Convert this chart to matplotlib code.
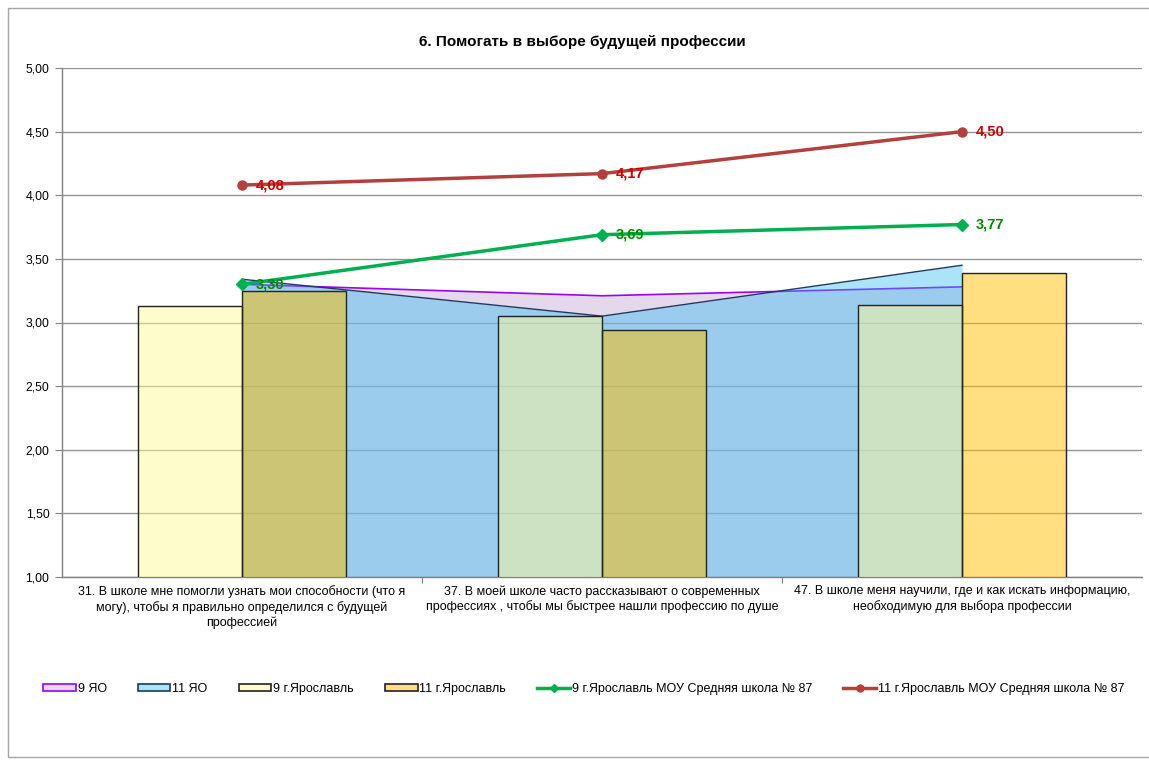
import matplotlib.pyplot as plt
import matplotlib.patches as mpatches
from matplotlib.lines import Line2D
from matplotlib.ticker import FuncFormatter, FixedLocator
import numpy as np

plt.rcParams['font.family'] = ['Liberation Sans', 'DejaVu Sans']

# Survey data
categories = [
    "31. В школе мне помогли узнать мои способности (что я\nмогу), чтобы я правильно определился с будущей\nпрофессией",
    "37. В моей школе часто рассказывают о современных\nпрофессиях , чтобы мы быстрее нашли профессию по душе",
    "47. В школе меня научили, где и как искать информацию,\nнеобходимую для выбора профессии",
]
yo_9 = [3.30, 3.21, 3.28]
yo_11 = [3.34, 3.05, 3.45]
yar_9 = [3.13, 3.05, 3.14]
yar_11 = [3.25, 2.94, 3.39]
school_9 = [3.30, 3.69, 3.77]
school_11 = [4.08, 4.17, 4.50]

series_names = ["9 ЯО", "11 ЯО", "9 г.Ярославль", "11 г.Ярославль",
                "9 г.Ярославль МОУ Средняя школа № 87",
                "11 г.Ярославль МОУ Средняя школа № 87"]

W, H = 1149, 761
fig = plt.figure(figsize=(W / 100, H / 100), dpi=100)

# outer chart frame
fig.add_artist(mpatches.Rectangle((8 / W, 1 - 757 / H), 1.2, (757 - 8) / H,
                                  transform=fig.transFigure, fill=False,
                                  edgecolor='#a6a6a6', linewidth=1.0))

ax = fig.add_axes([62 / W, 1 - 577 / H, (1142 - 62) / W, (577 - 68) / H])
x = np.arange(len(categories))

ax.set_axisbelow(True)
ax.yaxis.grid(True, color='#959595', linewidth=1.0, zorder=0)

# area series
ax.fill_between(x, 1.0, yo_9, color=(205 / 255, 179 / 255, 221 / 255), alpha=0.5,
                linewidth=0, zorder=1)
ax.plot(x, yo_9, color='#9900ff', linewidth=1.2, zorder=1.5)
ax.fill_between(x, 1.0, yo_11, color=(45 / 255, 185 / 255, 238 / 255), alpha=0.4,
                linewidth=0, zorder=2)
ax.plot(x, yo_11, color='#1f3a5f', linewidth=1.0, zorder=2.5)

# bars
bw = 0.288
ax.bar(x - bw / 2, yar_9, width=bw, bottom=0, color='#fffa99', alpha=0.5,
       edgecolor='none', zorder=3)
ax.bar(x - bw / 2, yar_9, width=bw, bottom=0, fill=False,
       edgecolor='#222222', linewidth=1.0, zorder=3.1)
ax.bar(x + bw / 2, yar_11, width=bw, bottom=0, color='#ffc000', alpha=0.5,
       edgecolor='none', zorder=3)
ax.bar(x + bw / 2, yar_11, width=bw, bottom=0, fill=False,
       edgecolor='#222222', linewidth=1.0, zorder=3.1)

# school lines
ax.plot(x, school_9, color='#00b050', linewidth=2.5, marker='D', markersize=6,
        zorder=5)
ax.plot(x, school_11, color='#b3403d', linewidth=2.5, marker='o', markersize=6.5,
        zorder=5)

def fmt(v):
    return f"{v:.2f}".replace('.', ',')

for xi, v in zip(x, school_9):
    ax.annotate(fmt(v), (xi, v), xytext=(10, 0), textcoords='offset points',
                ha='left', va='center', fontsize=10.5, fontweight='bold',
                color='#008a00', zorder=6)
for xi, v in zip(x, school_11):
    ax.annotate(fmt(v), (xi, v), xytext=(10, 0), textcoords='offset points',
                ha='left', va='center', fontsize=10.5, fontweight='bold',
                color='#cc0000', zorder=6)

ax.set_xlim(-0.5, 2.5)
ax.set_ylim(1.0, 5.0)
ax.set_yticks(np.arange(1.0, 5.01, 0.5))
ax.yaxis.set_major_formatter(FuncFormatter(lambda v, p: fmt(v)))
ax.tick_params(axis='y', labelsize=8.8, length=5, width=0.8, color='#808080',
               pad=4)

ax.set_xticks(x)
ax.set_xticklabels(categories, fontsize=9, linespacing=1.25)
ax.tick_params(axis='x', length=0, pad=6)
ax.xaxis.set_minor_locator(FixedLocator([0.5, 1.5]))
ax.tick_params(axis='x', which='minor', length=4, width=0.8, color='#808080')

for s in ['top', 'right']:
    ax.spines[s].set_visible(False)
for s in ['left', 'bottom']:
    ax.spines[s].set_color('#808080')
    ax.spines[s].set_linewidth(1.0)

fig.text(582 / W, 1 - 42 / H, "6. Помогать в выборе будущей профессии",
         ha='center', va='center', fontsize=11, fontweight='bold')

handles = [
    mpatches.Patch(facecolor='#e6d9ee', edgecolor='#9900ff', linewidth=1.2),
    mpatches.Patch(facecolor='#abe3f8', edgecolor='#1f3a5f', linewidth=1.2),
    mpatches.Patch(facecolor='#fffccc', edgecolor='#222222', linewidth=1.2),
    mpatches.Patch(facecolor='#ffde80', edgecolor='#222222', linewidth=1.2),
    Line2D([], [], color='#00b050', linewidth=2.5, marker='D', markersize=4),
    Line2D([], [], color='#b3403d', linewidth=2.5, marker='o', markersize=5),
]
fig.legend(handles, series_names, loc='center', bbox_to_anchor=(0.508, 1 - 689 / H),
           ncol=6, frameon=False, fontsize=9, handlelength=2.6, handleheight=0.55,
           handletextpad=0.15, columnspacing=2.5)

fig.savefig('out.png', dpi=100)
